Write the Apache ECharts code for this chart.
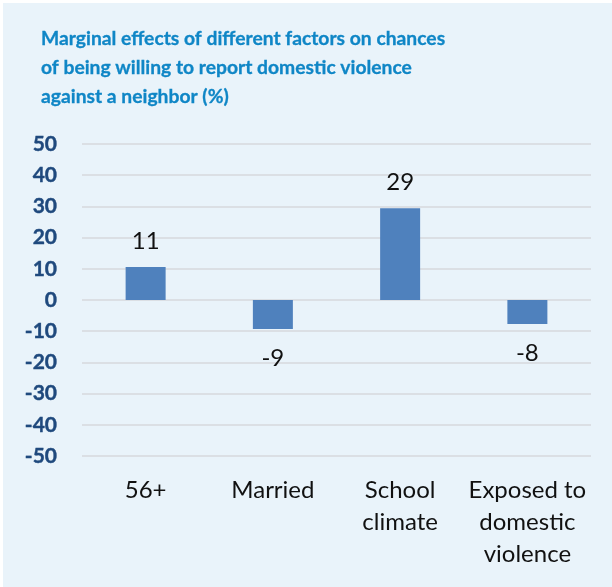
<!DOCTYPE html>
<html>
<head>
<meta charset="utf-8">
<script src="https://cdn.jsdelivr.net/npm/echarts@6/dist/echarts.min.js"></script>
<style>
  html, body { margin: 0; padding: 0; background: #fff; }
  #bg { position: absolute; left: 3px; top: 3px; width: 609px; height: 584px; background: #E9F3FA; }
  #main { position: absolute; left: 0; top: 0; width: 612px; height: 587px; }
</style>
</head>
<body>
<div id="bg"></div>
<div id="main"></div>
<script>
// chart data
var categories = ['56+', 'Married', 'School\nclimate', 'Exposed to\ndomestic\nviolence'];
var effects = [10.6, -9.3, 29.4, -7.7];
var yTicks = [-50, 50, 10]; // min, max, step

var chart = echarts.init(document.getElementById('main'));

// negative bars get the label underneath
var barData = effects.map(function (v) {
  return {
    value: v,
    label: {
      position: v < 0 ? 'bottom' : 'top',
      distance: v < 0 ? 17 : 14
    }
  };
});

var option = {
  animation: false,
  title: {
    text: 'Marginal effects of different factors on chances\nof being willing to report domestic violence\nagainst a neighbor (%)',
    left: 41,
    top: 24,
    padding: 0,
    textStyle: {
      fontFamily: 'Lato',
      fontWeight: 'bold',
      fontSize: 19.3,
      lineHeight: 29,
      color: '#0F86C6',
      textBorderColor: '#0F86C6',
      textBorderWidth: 0.3
    }
  },
  grid: {
    left: 82,
    right: 21,
    top: 144,
    bottom: 131,
    containLabel: false
  },
  xAxis: {
    type: 'category',
    data: categories,
    axisLine: { show: false, onZero: false },
    axisTick: { show: false },
    axisLabel: {
      margin: 18,
      fontFamily: 'Lato',
      fontSize: 24,
      lineHeight: 32,
      color: '#111',
      interval: 0
    }
  },
  yAxis: {
    type: 'value',
    min: yTicks[0],
    max: yTicks[1],
    interval: yTicks[2],
    axisLine: { show: false },
    axisTick: { show: false },
    splitLine: { lineStyle: { color: '#D6D9DC', width: 1.5 } },
    axisLabel: {
      margin: 25,
      fontFamily: 'Lato',
      fontWeight: 'bold',
      fontSize: 21,
      color: '#1F497D',
      textBorderColor: '#1F497D',
      textBorderWidth: 0.4
    }
  },
  series: [{
    type: 'bar',
    data: barData,
    barWidth: 40,
    itemStyle: { color: '#4F81BD' },
    label: {
      show: true,
      fontFamily: 'Lato',
      fontSize: 24,
      color: '#111',
      formatter: function (p) { return Math.round(p.value); }
    }
  }]
};
chart.setOption(option);
</script>
</body>
</html>
